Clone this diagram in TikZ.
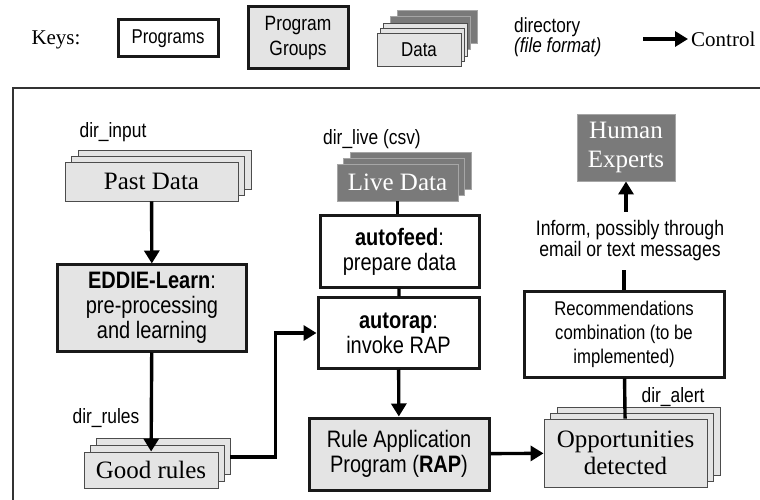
\documentclass[tikz,border=0pt]{standalone}
\usepackage{fontspec}
\setmainfont{Liberation Serif}
\setsansfont[FakeStretch=0.84]{Liberation Sans}
\usetikzlibrary{arrows.meta,shadows}

\definecolor{boxgray}{HTML}{E4E4E4}
\definecolor{darkbox}{HTML}{7A7A7A}
\definecolor{framegray}{HTML}{333333}

\begin{document}
\begin{tikzpicture}[x=1bp,y=-1bp,
	prog/.style={draw=black!90,line width=3bp,align=center,inner sep=0pt,font=\sffamily\fontsize{23.8bp}{25bp}\selectfont},
	grp/.style={prog,fill=boxgray},
	dat/.style={draw=black!70,line width=0.9bp,fill=boxgray,align=center,inner sep=0pt,font=\fontsize{25bp}{28bp}\selectfont},
	live/.style={dat,fill=darkbox,draw=black!35,text=white},
	stack/.style={double copy shadow={shadow xshift=6.5bp,shadow yshift=6bp}},
	lbl/.style={font=\sffamily\fontsize{20.7bp}{22bp}\selectfont,inner sep=0pt},
	ctl/.style={line width=3.4bp,-{Triangle[length=13bp,width=15bp]}}]

	\useasboundingbox (0,0) rectangle (760,500);%页面范围

	%%%% 图例
	\node [font=\fontsize{21bp}{24bp}\selectfont] (keys) at (56,40) {Keys:};
	\node [prog,minimum width=100bp,minimum height=37bp,font=\sffamily\fontsize{20bp}{22bp}\selectfont] (kprog) at (168,38.5) {Programs};
	\node [grp,minimum width=100bp,minimum height=62bp,font=\sffamily\fontsize{20.7bp}{25bp}\selectfont] (kgrp) at (298,38) {Program\\Groups};
	\node [live,minimum width=80bp,minimum height=33bp,copy shadow={shadow xshift=7bp,shadow yshift=6bp}] (kdark) at (430,32.5) {};%深色数据
	\node [dat,minimum width=84bp,minimum height=33bp,double copy shadow={shadow xshift=3bp,shadow yshift=5bp},font=\sffamily\fontsize{20.1bp}{22bp}\selectfont] (kdata) at (419,49.5) {Data};%浅色数据
	\node [lbl,align=left,anchor=west,font=\sffamily\fontsize{20.5bp}{18bp}\selectfont] (kdir) at (514,37) {directory\\\textit{(file format)}};
	\node [font=\fontsize{21bp}{24bp}\selectfont,anchor=west,inner sep=3bp] (kctl) at (688,39) {Control};
	\coordinate (kstart) at (643,39);
	\draw [ctl] (kstart) -- (kctl);%控制箭头

	\draw [framegray,line width=2bp] (13,88) rectangle (790,520);%外框

	%%%% 左列
	\node [lbl] (dirinput) at (113,132) {dir\_input};
	\node [dat,stack,minimum width=173bp,minimum height=39bp] (past) at (151.5,181.5) {Past Data};
	\node [grp,minimum width=188bp,minimum height=86bp] (eddie) at (152,308) {\textbf{EDDIE-Learn}:\\pre-processing\\and learning};
	\node [lbl] (dirrules) at (106,418) {dir\_rules};
	\node [dat,minimum width=134bp,minimum height=36bp,double copy shadow={shadow xshift=6bp,shadow yshift=7bp}] (goodrules) at (151,470) {Good rules};

	%%%% 中列
	\node [lbl] (dirlive) at (372,139) {dir\_live (csv)};
	\node [live,stack,minimum width=121bp,minimum height=37bp] (livedata) at (397.5,182.5) {Live Data};
	\node [prog,minimum width=159bp,minimum height=71bp] (autofeed) at (399.5,251.5) {\textbf{autofeed}:\\prepare data};
	\node [prog,minimum width=161bp,minimum height=70bp] (autorap) at (398.5,333) {\textbf{autorap}:\\invoke RAP};
	\node [grp,minimum width=180bp,minimum height=72bp] (rap) at (399,454) {Rule Application\\Program (\textbf{RAP})};

	%%%% 右列
	\node [live,minimum width=98bp,minimum height=67bp,font=\fontsize{25bp}{29bp}\selectfont] (human) at (626,147.5) {Human\\Experts};
	\node [lbl,align=center,minimum height=58bp,font=\sffamily\fontsize{21bp}{21bp}\selectfont] (inform) at (630,241) {Inform, possibly through\\email or text messages};
	\node [prog,minimum width=200bp,minimum height=85bp,font=\sffamily\fontsize{19.9bp}{24bp}\selectfont] (recomm) at (624,334.5) {Recommendations\\combination (to be\\implemented)};
	\node [lbl] (diralert) at (673,397) {dir\_alert};
	\node [dat,stack,minimum width=163bp,minimum height=68bp,font=\fontsize{25bp}{27bp}\selectfont] (opp) at (625.5,453) {Opportunities\\detected};

	%%%% 连线
	\draw [ctl] (past) -- (eddie);
	\draw [ctl] (eddie) -- (goodrules);
	\draw [ctl] ([xshift=12bp,yshift=13bp]goodrules.east) -- ++(45,0) |- (autorap.west);%规则送入autorap
	\draw [line width=3.4bp] (livedata.south) -- (livedata.south |- autofeed.north);
	\draw [line width=3.4bp] (autofeed) -- (autorap);
	\draw [ctl] (autorap) -- (rap);
	\draw [ctl] (rap) -- (opp);
	\draw [line width=3.4bp] (recomm) -- (opp);
	\draw [line width=3.4bp] (recomm.north) -- (recomm.north |- inform.south);
	\draw [ctl] (human.south |- inform.north) -- (human.south);%通知专家

\end{tikzpicture}
\end{document}
